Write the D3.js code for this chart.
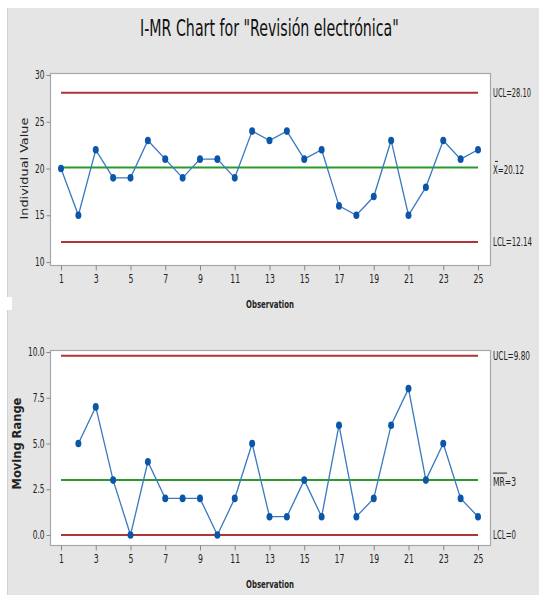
<!DOCTYPE html>
<html><head><meta charset="utf-8">
<script src="https://cdn.jsdelivr.net/npm/d3@7"></script>
<style>
body{margin:0;background:#fff;}
text{font-family:"DejaVu Sans Condensed","Liberation Sans Narrow",sans-serif;}
</style></head>
<body><svg id="c" width="539" height="595"></svg>
<script>
const title = 'I-MR Chart for "Revisión electrónica"';
const observations = d3.range(1, 26);
const individualValues = [20,15,22,19,19,23,21,19,21,21,19,24,23,24,21,22,16,15,17,23,15,18,23,21,22];
const movingRanges = [null,5,7,3,0,4,2,2,2,0,2,5,1,1,3,1,6,1,2,6,8,3,5,2,1];
const xTicks = [1,3,5,7,9,11,13,15,17,19,21,23,25];
const iTicks = [10,15,20,25,30];
const mrTicks = [0,2.5,5,7.5,10];
const iLimits = {ucl:28.10, center:20.12, lcl:12.14};
const mrLimits = {ucl:9.80, center:3, lcl:0};

const svg = d3.select("#c");
svg.append("rect").attr("x",7).attr("y",8).attr("width",532).attr("height",587).attr("fill","#e5e5e5");
svg.append("line").attr("x1",7.5).attr("x2",7.5).attr("y1",8).attr("y2",595).attr("stroke","#d0d0d0");
svg.append("rect").attr("x",0).attr("y",297).attr("width",12).attr("height",13).attr("fill","#fff");

function squeezed(parent, x, y, str, size, width, opts = {}) {
  const g = parent.append("g");
  const t = g.append("text").attr("font-size", size).attr("fill", opts.fill || "#222")
    .attr("font-weight", opts.weight || "normal").text(str);
  const nat = t.node().getComputedTextLength();
  const s = width / nat;
  const rot = opts.rotate ? " rotate(-90)" : "";
  g.attr("transform", `translate(${x},${y})${rot} scale(${s},1)`);
  return g;
}
function condenseTicks(sel, f) {
  sel.selectAll("text").each(function(){
    const n = this.getComputedTextLength();
    d3.select(this).attr("textLength", n*f).attr("lengthAdjust","spacingAndGlyphs");
  });
}

squeezed(svg, 140, 36, title, 23, 259, {fill:"#111"});

const x = d3.scaleLinear().domain([1,25]).range([61,478]);

function panel(cfg){
  const {yDomain, yRange, top, bottom, ticks, fmt, values, limits, ylabel, ylabelX, ylabelLen, labels, xLabY} = cfg;
  const y = d3.scaleLinear().domain(yDomain).range(yRange);
  const g = svg.append("g");
  g.append("rect").attr("x",50.5).attr("y",top+0.5).attr("width",440).attr("height",bottom-top)
    .attr("fill","#fff").attr("stroke","#a8a8a8").attr("stroke-width",1.2);
  const ya = g.append("g").attr("transform","translate(50.5,0)")
    .call(d3.axisLeft(y).tickValues(ticks).tickFormat(fmt).tickSize(4).tickPadding(2));
  ya.select(".domain").remove();
  ya.selectAll("line").attr("stroke","#888");
  ya.selectAll("text").attr("font-size",11.5).attr("fill","#222");
  condenseTicks(ya, 0.72);
  const xa = g.append("g").attr("transform",`translate(0,${bottom+0.5})`)
    .call(d3.axisBottom(x).tickValues(xTicks).tickFormat(d3.format("d")).tickSize(5).tickPadding(4));
  xa.select(".domain").remove();
  xa.selectAll("line").attr("stroke","#888");
  xa.selectAll("text").attr("font-size",11.5).attr("fill","#222");
  condenseTicks(xa, 0.75);
  squeezed(g, 246, xLabY, "Observation", 11, 48, {weight:"bold"});
  const mid = (yRange[0]+yRange[1])/2;
  squeezed(g, ylabelX, mid + ylabelLen/2, ylabel, cfg.ylabelSize, ylabelLen,
    {rotate:true, weight: cfg.ylabelBold ? "bold" : "normal"});
  const lines = [["ucl","#b03535"],["center","#2a9a2a"],["lcl","#b03535"]];
  lines.forEach(([k,c])=>{
    g.append("line").attr("x1",x(1)).attr("x2",x(25)).attr("y1",y(limits[k])).attr("y2",y(limits[k]))
      .attr("stroke",c).attr("stroke-width",2);
  });
  const pts = observations.map((o,i)=>({o, v: values[i]})).filter(d=>d.v!==null);
  g.append("path").datum(pts).attr("fill","none").attr("stroke","#3a78c0").attr("stroke-width",1.3)
    .attr("d", d3.line().x(d=>x(d.o)).y(d=>y(d.v)));
  g.selectAll("ellipse.pt").data(pts).join("ellipse").attr("class","pt")
    .attr("cx",d=>x(d.o)).attr("cy",d=>y(d.v)).attr("rx",3).attr("ry",3.8).attr("fill","#0b56a8");
  labels.forEach(l=>{
    const ty = y(limits[l.k]) + (l.dy||4);
    squeezed(g, 493, ty, l.text, 12, l.len);
    if (l.bar) {
      g.append("line").attr("x1",493+(l.barOff||0)).attr("x2",493+(l.barOff||0)+l.barW)
        .attr("y1",ty-13).attr("y2",ty-13).attr("stroke","#222").attr("stroke-width",1);
    }
  });
}

panel({yDomain:[10,30], yRange:[262,75], top:73, bottom:265, ticks:iTicks, fmt:d3.format("d"),
  values:individualValues, limits:iLimits, ylabel:"Individual Value", ylabelX:28, ylabelLen:102, ylabelSize:10.5,
  labels:[{k:"ucl",text:"UCL=28.10",len:38},{k:"center",text:"X=20.12",len:31,bar:true,barW:3,barOff:2,dy:7},{k:"lcl",text:"LCL=12.14",len:39}],
  xLabY:308});

panel({yDomain:[0,10], yRange:[535,352], top:350, bottom:545, ticks:mrTicks, fmt:d3.format(".1f"),
  values:movingRanges, limits:mrLimits, ylabel:"Moving Range", ylabelX:21, ylabelLen:92, ylabelSize:11.5, ylabelBold:true,
  labels:[{k:"ucl",text:"UCL=9.80",len:37},{k:"center",text:"MR=3",len:23,bar:true,barW:14,barOff:0,dy:6},{k:"lcl",text:"LCL=0",len:23}],
  xLabY:588});
</script></body></html>
